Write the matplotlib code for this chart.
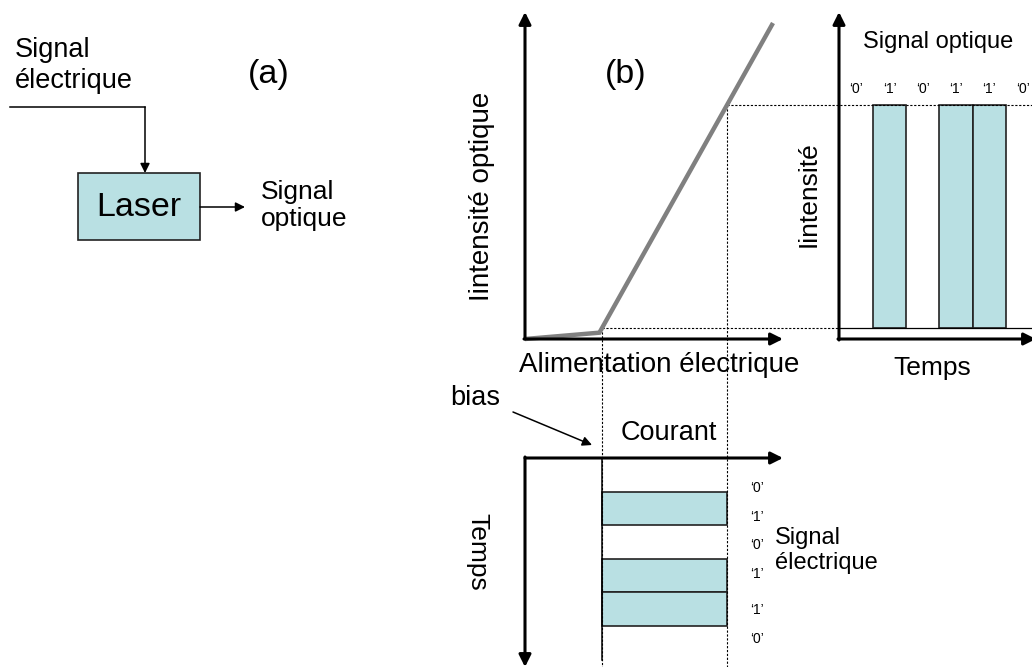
import numpy as np
import matplotlib
matplotlib.use("Agg")
import matplotlib.pyplot as plt
from matplotlib.patches import Rectangle

plt.rcParams['font.family'] = ['Liberation Sans', 'DejaVu Sans']

# --- data -------------------------------------------------------------
bits = [0, 1, 0, 1, 1, 0]                      # transmitted sequence
li_current = [0.0, 0.30, 1.0]                  # normalised drive current
li_power = [0.0, 0.02, 1.0]                    # normalised optical power
bias_current = 0.31                            # current for a '0'
on_current = 0.815                             # current for a '1'

# --- layout (pixels) ----------------------------------------------------
W, H = 1032, 667
FILL = '#b9e0e3'
EDGE = '#222222'

fig = plt.figure(figsize=(W / 100, H / 100), dpi=100)
ax = fig.add_axes([0, 0, 1, 1])
ax.set_xlim(0, W)
ax.set_ylim(H, 0)
ax.axis('off')


def arrow(x0, y0, x1, y1, lw=2.2, ms=18):
    ax.annotate('', xy=(x1, y1), xytext=(x0, y0), annotation_clip=False,
                arrowprops=dict(arrowstyle='-|>', lw=lw, color='k',
                                mutation_scale=ms, shrinkA=0, shrinkB=0))


# ======================= (a) =======================
ax.text(15, 37, 'Signal\nélectrique', fontsize=19.5, va='top', ha='left',
        linespacing=1.25)
ax.text(269, 75, '(a)', fontsize=24.5, ha='center', va='center')
ax.plot([10, 145], [107, 107], color='k', lw=1.1)
arrow(145, 107, 145, 173, lw=1.1, ms=14)
ax.add_patch(Rectangle((78, 173), 122, 67, facecolor=FILL, edgecolor=EDGE, lw=1.2))
ax.text(139, 208, 'Laser', fontsize=24.5, ha='center', va='center')
arrow(200, 207, 245, 207, lw=1.1, ms=14)
ax.text(261, 180, 'Signal\noptique', fontsize=19, va='top', ha='left',
        linespacing=1.18)

# ======================= (b) P-I curve =======================
ox, oy = 525, 339          # origin of P-I graph
sx, sy = 248, 316          # pixels per unit current / power


def px(c):
    return ox + np.asarray(c) * sx


def py(p):
    return oy - np.asarray(p) * sy


p_low = np.interp(bias_current, li_current, li_power)
p_high = np.interp(on_current, li_current, li_power)
x_bias, x_on = px(bias_current), px(on_current)
y_low, y_high = py(p_low), py(p_high)

dot = dict(color='k', lw=0.8, ls=(0, (2, 1.5)))
ax.plot([x_bias, 839], [y_low, y_low], **dot)
ax.plot([x_on, W], [y_high, y_high], **dot)
ax.plot([x_bias, x_bias], [y_low, H], **dot)
ax.plot([x_on, x_on], [y_high, H], **dot)

ax.plot(px(li_current), py(li_power), color='#808080', lw=3.2,
        solid_joinstyle='miter', solid_capstyle='butt')
arrow(ox, oy, ox, 12)
arrow(ox - 1, oy, 783, oy)
ax.text(626, 75, '(b)', fontsize=24.5, ha='center', va='center')
ax.text(482, 196, 'Iintensité optique', fontsize=20, rotation=90,
        ha='center', va='center')
ax.text(659, 372, 'Alimentation électrique', fontsize=20, ha='center',
        va='baseline')

# ======================= optical output =======================
tx0, bw = 839.5, 33.3
ax.plot([tx0, W], [y_low, y_low], color='k', lw=0.9)
for i, b in enumerate(bits):
    ax.text(tx0 + (i + 0.5) * bw, 93, "‘%d’" % b, fontsize=10,
            ha='center', va='baseline')
    if b:
        ax.add_patch(Rectangle((tx0 + i * bw, y_high), bw, y_low - y_high,
                               facecolor=FILL, edgecolor=EDGE, lw=1.2))
arrow(839, 340, 839, 12)
arrow(838, 339, 1036, 339)
ax.text(938, 48, 'Signal optique', fontsize=17, ha='center', va='baseline')
ax.text(809, 194, 'Iintensité', fontsize=19, rotation=90, ha='center',
        va='center')
ax.text(932, 375, 'Temps', fontsize=19, ha='center', va='baseline')

# ======================= electrical input =======================
ty0, bh = 458, 33.6
ax.plot([x_bias, x_bias], [ty0, ty0 + len(bits) * bh], color='k', lw=1.1)
label_offset = [13, 9, 3, -2, 1, -4]
for i, b in enumerate(bits):
    if b:
        ax.add_patch(Rectangle((x_bias, ty0 + i * bh), x_on - x_bias, bh,
                               facecolor=FILL, edgecolor=EDGE, lw=1.2))
    ax.text(757, ty0 + (i + 0.5) * bh + label_offset[i], "‘%d’" % b,
            fontsize=10, ha='center', va='center')
arrow(ox, ty0, 783, ty0)
arrow(ox, ty0 - 1, ox, 667)
ax.text(669, 440, 'Courant', fontsize=19.5, ha='center', va='baseline')
ax.text(477, 552, 'Temps', fontsize=19, rotation=-90, ha='center',
        va='center')
ax.text(775, 527, 'Signal\nélectrique', fontsize=17, ha='left', va='top',
        linespacing=1.2)
ax.text(475, 405, 'bias', fontsize=19.5, ha='center', va='baseline')
arrow(513, 412, 592, 445, lw=1.1, ms=14)

fig.savefig('out.png', dpi=100)
